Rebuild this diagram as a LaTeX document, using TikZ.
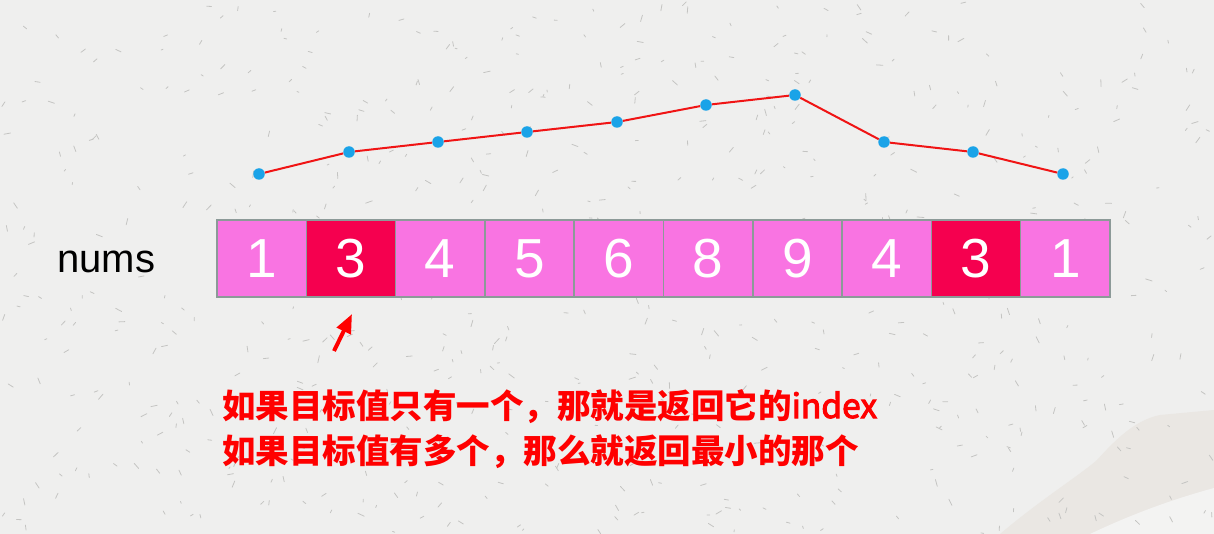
\documentclass[tikz,border=0pt]{standalone}
\usepackage{fontspec}
\setmainfont{Liberation Sans}
\newfontfamily\cjk{Noto Sans CJK SC}
\newfontfamily\cjkfb{Noto Sans CJK SC}[FakeBold=3]
\usetikzlibrary{arrows.meta}
\definecolor{bg}{HTML}{EFEFEE}
\definecolor{tearbeige}{HTML}{EAE7E3}
\definecolor{tearlight}{HTML}{F3F3F2}
\definecolor{speckc}{HTML}{C4C4C2}
\definecolor{cellpink}{HTML}{F974E2}
\definecolor{cellred}{HTML}{F5004F}
\definecolor{cellborder}{HTML}{8C9A98}
\definecolor{dotblue}{HTML}{1AA3E8}
\definecolor{linered}{HTML}{F01414}
\definecolor{txtred}{HTML}{FF0000}
\begin{document}
\begin{tikzpicture}[x=1pt,y=-1pt,
  cell/.style={draw=cellborder, line width=1.5pt, fill=cellpink, minimum width=89.3pt, minimum height=77pt, inner sep=0pt, text=white, font=\fontsize{55}{60}\selectfont},
  hot/.style={fill=cellred},
  dot/.style={circle, fill=dotblue, inner sep=0pt, minimum size=11.5pt},
  link/.style={linered, line width=2pt},
  pointer/.style={txtred, line width=4pt, -{Triangle[length=19pt,width=15pt]}},
  note/.style={anchor=base west, text=txtred, inner sep=0pt, font=\fontsize{33.5}{36}\cjk\bfseries},
  speck/.style={speckc, line width=0.8pt, line cap=round}]
% background
\fill[bg] (0,0) rectangle (1214,534);
\useasboundingbox (0,0) rectangle (1214,534);
\fill[tearbeige] (1000,534) .. controls (1040,500) and (1080,475) .. (1097,460) .. controls (1115,440) and (1135,420) .. (1160,415) -- (1214,410) -- (1214,534) -- cycle;
\fill[tearlight] (1090,534) .. controls (1130,515) and (1170,500) .. (1214,488) -- (1214,534) -- cycle;
\pgfmathsetseed{7}
\foreach \i in {1,...,650}{
  \pgfmathsetmacro\xx{rnd*1214}
  \pgfmathsetmacro\yy{rnd*534}
  \pgfmathsetmacro\aa{rnd*360}
  \pgfmathsetmacro\ll{2+rnd*5}
  \draw[speck] (\xx,\yy) -- ++(\aa:\ll);
}
% label
\node[anchor=base west, inner sep=0pt, font=\fontsize{40}{44}\selectfont] (lbl) at (57,273) {nums};
% cells
\foreach \v/\s [count=\i] in {1/,3/hot,4/,5/,6/,8/,9/,4/,3/hot,1/}{
  \node[cell,\s] (c\i) at ({217+89.3*(\i-0.5)},258.5) {\v};
}
% line chart
\node[dot] (p1) at (259,174) {};
\node[dot] (p2) at (349,152) {};
\node[dot] (p3) at (438,142) {};
\node[dot] (p4) at (527,132) {};
\node[dot] (p5) at (617,122) {};
\node[dot] (p6) at (706,105) {};
\node[dot] (p7) at (795,95) {};
\node[dot] (p8) at (884,142) {};
\node[dot] (p9) at (973,152) {};
\node[dot] (p10) at (1063,174) {};
\draw[link] (p1) -- (p2) -- (p3) -- (p4) -- (p5) -- (p6) -- (p7) -- (p8) -- (p9) -- (p10);
% pointer
\coordinate (atail) at (334,351);
\coordinate (ahead) at (352,314);
\draw[pointer] (atail) -- (ahead);
% notes
\node[note] (t1) at (222,418) {如果目标值只有一个，那就是返回它的{\cjkfb\mdseries index}};
\node[note] (t2) at (222,463) {如果目标值有多个，那么就返回最小的那个};
\end{tikzpicture}
\end{document}
